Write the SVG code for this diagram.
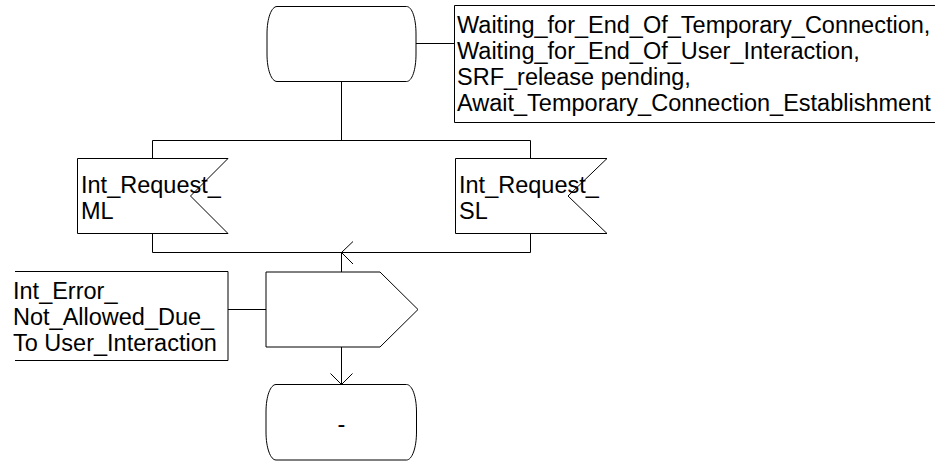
<svg xmlns="http://www.w3.org/2000/svg" width="948" height="461" viewBox="0 0 948 461">
<style>
.s{fill:#fff;stroke:#000;stroke-width:1}
.l{fill:none;stroke:#000;stroke-width:1}
text{font-family:"Liberation Sans",Arial,sans-serif;font-size:23.5px;fill:#000}
</style>
<rect width="948" height="461" fill="#fff"/>
<g id="connectors">
<path class="l" d="M416,43.5H454.5"/>
<path class="l" d="M341.5,82V140.5"/>
<path class="l" d="M152.5,158V140.5H530.5V158"/>
<path class="l" d="M152.5,233V252.5H530.5V233"/>
<path class="l" d="M353,241.5L341.5,252.5L353,264"/>
<path class="l" d="M341.5,252.5V272"/>
<path class="l" d="M228,309.5H266"/>
<path class="l" d="M341.5,347V384.5"/>
<path class="l" d="M330.5,373.5L341.5,384.5L352.5,373.5"/>
</g>
<g id="state_top">
<path class="s" d="M277,6.5H406.5C412,6.5 416,18 416,34V54C416,70 412,81.5 406.5,81.5H277C271.5,81.5 267,70 267,54V34C267,18 271.5,6.5 277,6.5Z"/>
</g>
<g id="comment_top">
<path class="l" d="M935,5.5H454.5V122.5H935"/>
<text x="457" y="33">Waiting_for_End_Of_Temporary_Connection,</text>
<text x="457" y="59">Waiting_for_End_Of_User_Interaction,</text>
<text x="457" y="85">SRF_release pending,</text>
<text x="457" y="111">Await_Temporary_Connection_Establishment</text>
</g>
<g id="input_ml">
<path class="s" d="M77.5,158.5H228L190.5,196L228,233.5H77.5Z"/>
<text x="81" y="193">Int_Request_</text>
<text x="81" y="219">ML</text>
</g>
<g id="input_sl">
<path class="s" d="M455.5,158.5H607L568,196L607,233.5H455.5Z"/>
<text x="459" y="193">Int_Request_</text>
<text x="459" y="219">SL</text>
</g>
<g id="output">
<path class="s" d="M266,272H380L418,309.5L380,347H266Z"/>
</g>
<g id="comment_left">
<path class="l" d="M15,271.5H228V360.5H15"/>
<text x="13" y="299">Int_Error_</text>
<text x="13" y="325">Not_Allowed_Due_</text>
<text x="13" y="351">To User_Interaction</text>
</g>
<g id="state_end">
<path class="s" d="M276,384.5H406.5C412,384.5 416.5,396 416.5,412V432C416.5,448 412,460 406.5,460H276C270.5,460 266,448 266,432V412C266,396 270.5,384.5 276,384.5Z"/>
<text x="341.5" y="432" text-anchor="middle">-</text>
</g>
</svg>
